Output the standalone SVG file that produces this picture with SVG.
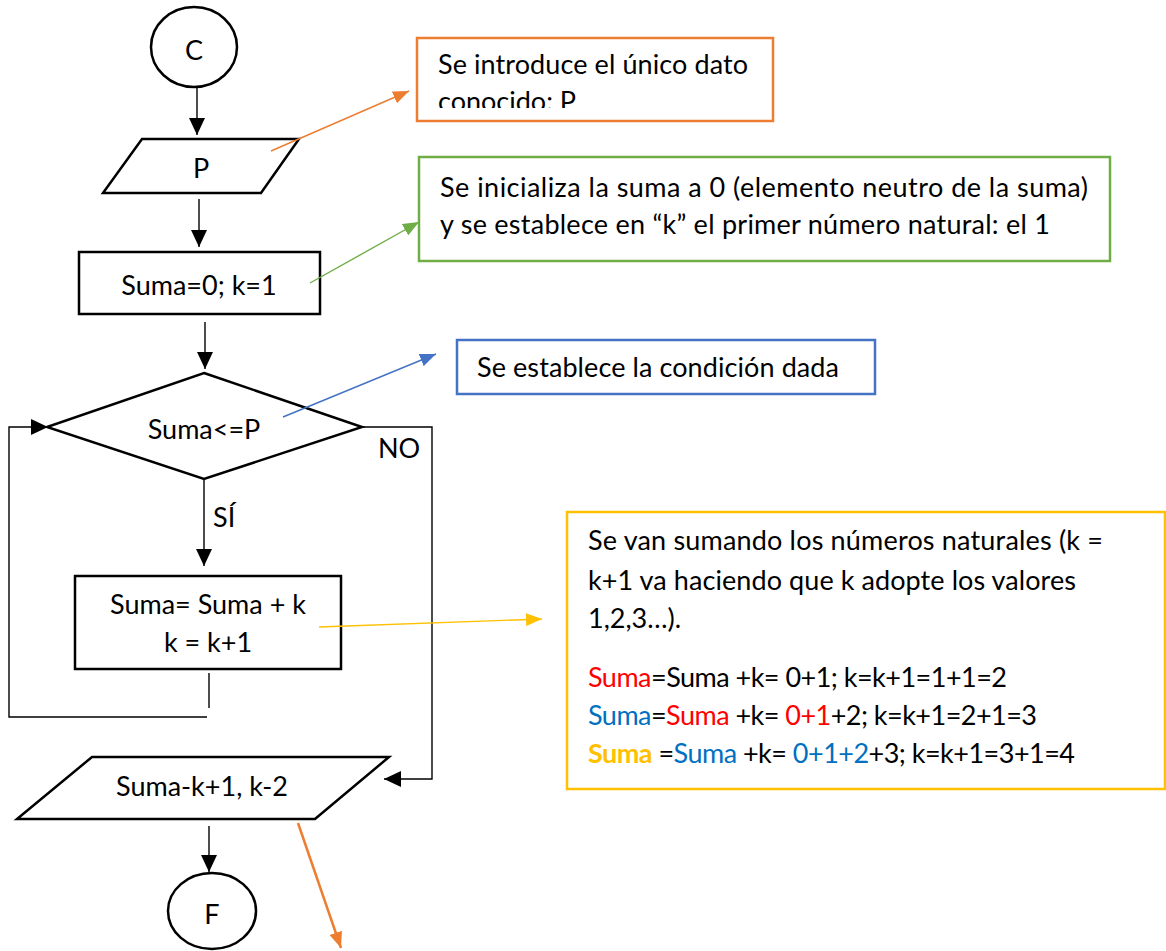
<svg xmlns="http://www.w3.org/2000/svg" width="1166" height="951" viewBox="0 0 1166 951">
<style>
  .shape { fill: #ffffff; stroke: #000000; stroke-width: 2.5; }
  .conn { fill: none; stroke: #000000; stroke-width: 1.4; }
  .t { font-family: Lato, "Open Sans", "Liberation Sans", sans-serif; font-size: 27px; fill: #000000; }
  .c { text-anchor: middle; }
  .red { fill: #FF0000; }
  .blue { fill: #0070C0; }
  .gold { fill: #FFC000; font-weight: bold; }
</style>
<defs>
  <marker id="ab" markerUnits="userSpaceOnUse" markerWidth="17" markerHeight="16" refX="17" refY="8" orient="auto">
    <path d="M0,0 L17,8 L0,16 z" fill="#000000"/>
  </marker>
  <marker id="ao" markerUnits="userSpaceOnUse" markerWidth="16" markerHeight="13" refX="16" refY="6.5" orient="auto">
    <path d="M0,0 L16,6.5 L0,13 z" fill="#ED7D31"/>
  </marker>
  <marker id="ag" markerUnits="userSpaceOnUse" markerWidth="16" markerHeight="13" refX="16" refY="6.5" orient="auto">
    <path d="M0,0 L16,6.5 L0,13 z" fill="#70AD47"/>
  </marker>
  <marker id="abl" markerUnits="userSpaceOnUse" markerWidth="16" markerHeight="13" refX="16" refY="6.5" orient="auto">
    <path d="M0,0 L16,6.5 L0,13 z" fill="#4472C4"/>
  </marker>
  <marker id="ay" markerUnits="userSpaceOnUse" markerWidth="16" markerHeight="13" refX="16" refY="6.5" orient="auto">
    <path d="M0,0 L16,6.5 L0,13 z" fill="#FFC000"/>
  </marker>
  <clipPath id="clipOrange">
    <rect x="419" y="40" width="352" height="68"/>
  </clipPath>
</defs>
<rect x="0" y="0" width="1166" height="951" fill="#ffffff"/>

<g id="connectors">
  <line class="conn" x1="197" y1="87" x2="197" y2="135" marker-end="url(#ab)"/>
  <line class="conn" x1="199" y1="199" x2="199" y2="247" marker-end="url(#ab)"/>
  <line class="conn" x1="205" y1="322" x2="205" y2="369" marker-end="url(#ab)"/>
  <line class="conn" x1="204" y1="479" x2="204" y2="566" marker-end="url(#ab)"/>
  <polyline class="conn" points="362,427 432,427 432,779 384,779" marker-end="url(#ab)"/>
  <line class="conn" x1="209" y1="673" x2="209" y2="708"/>
  <polyline class="conn" points="207,717 9,717 9,427 48,427" marker-end="url(#ab)"/>
  <line class="conn" x1="209" y1="826" x2="209" y2="872" marker-end="url(#ab)"/>
</g>

<g id="start">
  <ellipse class="shape" cx="194" cy="47" rx="43" ry="40"/>
  <text class="t c" x="194" y="60">C</text>
</g>
<g id="input-p">
  <polygon class="shape" points="142,139 299,139 261,193 103,193"/>
  <text class="t c" x="201" y="178">P</text>
</g>
<g id="init">
  <rect class="shape" x="79" y="252" width="241" height="62"/>
  <text class="t c" x="199" y="295">Suma=0; k=1</text>
</g>
<g id="decision">
  <polygon class="shape" points="204,373 362,427 204,479 47,427"/>
  <text class="t c" x="204" y="439">Suma&lt;=P</text>
  <text class="t" x="378" y="458">NO</text>
  <text class="t" x="213" y="527">SÍ</text>
</g>
<g id="loop-body">
  <rect class="shape" x="75" y="576" width="266" height="93"/>
  <text class="t c" x="208" y="614">Suma= Suma + k</text>
  <text class="t c" x="208" y="652">k = k+1</text>
</g>
<g id="output">
  <polygon class="shape" points="92,757 389,757 315,819 17,819"/>
  <text class="t c" x="202" y="796">Suma-k+1, k-2</text>
</g>
<g id="end">
  <ellipse class="shape" cx="212" cy="911" rx="44" ry="38"/>
  <text class="t c" x="212" y="924">F</text>
</g>

<g id="note-input">
  <rect x="417" y="38" width="356" height="83" fill="#ffffff" stroke="#ED7D31" stroke-width="2.5"/>
  <g clip-path="url(#clipOrange)">
    <text class="t" x="438" y="74" textLength="310">Se introduce el único dato</text>
    <text class="t" x="438" y="111">conocido: P</text>
  </g>
</g>
<g id="note-init">
  <rect x="419" y="157" width="691" height="104" fill="#ffffff" stroke="#70AD47" stroke-width="2.5"/>
  <text class="t" x="440" y="197" textLength="648">Se inicializa la suma a 0 (elemento neutro de la suma)</text>
  <text class="t" x="440" y="234" textLength="610">y se establece en “k” el primer número natural: el 1</text>
</g>
<g id="note-cond">
  <rect x="457" y="340" width="418" height="54" fill="#ffffff" stroke="#4472C4" stroke-width="2.5"/>
  <text class="t" x="477" y="377" textLength="362">Se establece la condición dada</text>
</g>
<g id="note-sum">
  <rect x="567" y="512" width="598" height="277" fill="#ffffff" stroke="#FFC000" stroke-width="2.5"/>
  <text class="t" x="588" y="550" textLength="515">Se van sumando los números naturales (k =</text>
  <text class="t" x="588" y="590" textLength="488">k+1 va haciendo que k adopte los valores</text>
  <text class="t" x="588" y="628">1,2,3…).</text>
  <text class="t" x="588" y="687" textLength="419"><tspan class="red">Suma</tspan>=Suma +k= 0+1; k=k+1=1+1=2</text>
  <text class="t" x="588" y="725" textLength="449"><tspan class="blue">Suma</tspan>=<tspan class="red">Suma</tspan> +k= <tspan class="red">0+1</tspan>+2; k=k+1=2+1=3</text>
  <text class="t" x="588" y="763" textLength="487"><tspan class="gold">Suma</tspan> =<tspan class="blue">Suma</tspan> +k= <tspan class="blue">0+1+2</tspan>+3; k=k+1=3+1=4</text>
</g>

<g id="annotation-connectors">
  <line x1="271" y1="151" x2="409" y2="91" stroke="#ED7D31" stroke-width="1.4" marker-end="url(#ao)"/>
  <line x1="310" y1="283" x2="419" y2="222" stroke="#70AD47" stroke-width="1.4" marker-end="url(#ag)"/>
  <line x1="283" y1="417" x2="436" y2="354" stroke="#4472C4" stroke-width="1.4" marker-end="url(#abl)"/>
  <line x1="319" y1="627" x2="542" y2="619" stroke="#FFC000" stroke-width="1.4" marker-end="url(#ay)"/>
  <line x1="298" y1="823" x2="341" y2="948" stroke="#ED7D31" stroke-width="2.5" marker-end="url(#ao)"/>
</g>
</svg>
